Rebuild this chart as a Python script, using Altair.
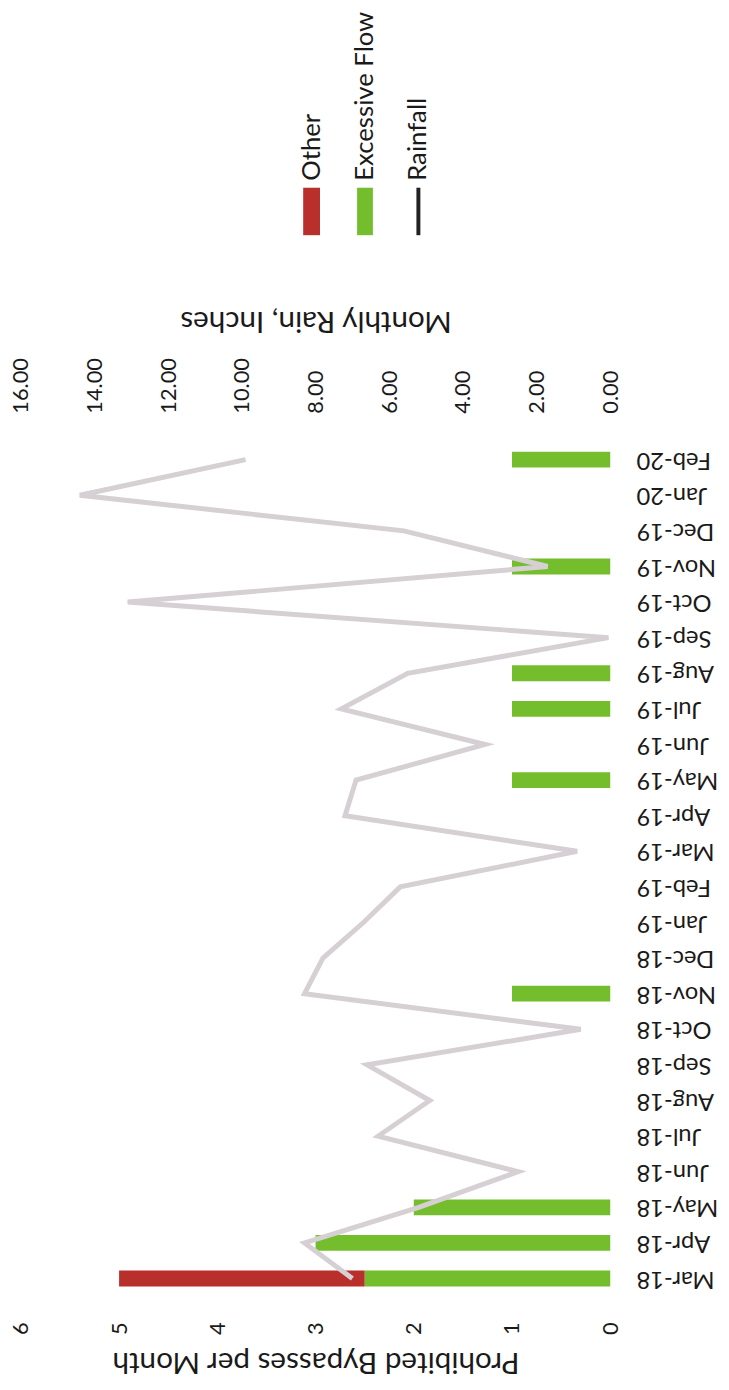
import altair as alt
import pandas as pd

# ---------------- data ----------------
months = ["Mar-18", "Apr-18", "May-18", "Jun-18", "Jul-18", "Aug-18", "Sep-18",
          "Oct-18", "Nov-18", "Dec-18", "Jan-19", "Feb-19", "Mar-19", "Apr-19",
          "May-19", "Jun-19", "Jul-19", "Aug-19", "Sep-19", "Oct-19", "Nov-19",
          "Dec-19", "Jan-20", "Feb-20"]
excessive_flow = [2.5, 3, 2, 0, 0, 0, 0, 0, 1, 0, 0, 0,
                  0, 0, 1, 0, 1, 1, 0, 0, 1, 0, 0, 1]
other = [2.5, 0, 0, 0, 0, 0, 0, 0, 0, 0, 0, 0,
         0, 0, 0, 0, 0, 0, 0, 0, 0, 0, 0, 0]
rainfall = [7.0, 8.3, 5.2, 2.5, 6.3, 4.9, 6.6, 0.8, 8.3, 7.8, 6.7, 5.7,
            0.9, 7.2, 6.9, 3.4, 7.3, 5.5, 0.05, 13.1, 1.7, 5.6, 14.4, 9.9]
bypass_ticks = [0, 1, 2, 3, 4, 5, 6]
rain_ticks = [0, 2, 4, 6, 8, 10, 12, 14, 16]
legend_names = ["Other", "Excessive Flow", "Rainfall"]

GREEN = "#74be2e"
RED = "#b92f2c"
RAIN = "#d6cfd3"
FONT = "Lato"
TXT = "#1a1a1a"

bars_df = pd.DataFrame({
    "month": months * 2,
    "series": ["Excessive Flow"] * len(months) + ["Other"] * len(months),
    "value": excessive_flow + other,
    "ord": [0] * len(months) + [1] * len(months),
})
rain_df = pd.DataFrame({"month": months, "rain": rainfall, "idx": list(range(len(months)))})
leg_df = pd.DataFrame({"name": legend_names})

y_scale = alt.Scale(paddingInner=0, paddingOuter=0)
y_axis = alt.Axis(orient="right", title=None, labelAngle=180, labelAlign="right",
                  labelBaseline="middle", labelPadding=26, ticks=False, domain=False,
                  grid=False, labelFont=FONT, labelFontSize=24, labelColor=TXT)

bars = alt.Chart(bars_df).mark_bar(size=16).encode(
    x=alt.X("value:Q", stack="zero",
            scale=alt.Scale(domain=[0, 6], reverse=True, nice=False),
            axis=alt.Axis(orient="bottom", values=bypass_ticks, format="d",
                          title="Prohibited Bypasses per Month",
                          labelAngle=270, labelAlign="right", labelBaseline="middle",
                          labelPadding=26, ticks=False, domain=False, grid=False,
                          labelFont=FONT, labelFontSize=22, labelColor=TXT,
                          titleAngle=180, titleBaseline="middle", titleY=66,
                          titleFont=FONT, titleFontSize=30, titleFontWeight="normal",
                          titleColor=TXT)),
    y=alt.Y("month:N", sort=months[::-1], scale=y_scale, axis=y_axis),
    color=alt.Color("series:N",
                    scale=alt.Scale(domain=["Excessive Flow", "Other"], range=[GREEN, RED]),
                    legend=None),
    order=alt.Order("ord:Q"),
)

line = alt.Chart(rain_df).mark_line(color=RAIN, strokeWidth=5).encode(
    x=alt.X("rain:Q",
            scale=alt.Scale(domain=[0, 16], reverse=True, nice=False),
            axis=alt.Axis(orient="top", values=rain_ticks, format=".2f",
                          title="Monthly Rain, Inches",
                          labelAngle=270, labelAlign="left", labelBaseline="middle",
                          labelPadding=29, ticks=False, domain=False, grid=False,
                          labelFont=FONT, labelFontSize=22, labelColor=TXT,
                          titleAngle=180, titleBaseline="middle", titleY=-123,
                          titleFont=FONT, titleFontSize=30, titleFontWeight="normal",
                          titleColor=TXT)),
    y=alt.Y("month:N", sort=months[::-1], scale=y_scale, axis=y_axis),
    order=alt.Order("idx:Q"),
)

leg_x = alt.X("name:N", scale=alt.Scale(type="point", domain=legend_names,
                                        range=[294, 402], padding=0), axis=None)

leg_text = alt.Chart(leg_df).mark_text(angle=270, align="left", baseline="middle",
                                       font=FONT, fontSize=26, color=TXT).encode(
    x=leg_x, y=alt.value(-264), text="name:N")

leg_other = alt.Chart(leg_df).transform_filter(alt.datum.name == "Other").mark_rule(
    strokeWidth=17, color=RED).encode(x=leg_x, y=alt.value(-257), y2=alt.value(-209))
leg_flow = alt.Chart(leg_df).transform_filter(alt.datum.name == "Excessive Flow").mark_rule(
    strokeWidth=16, color=GREEN).encode(x=leg_x, y=alt.value(-257), y2=alt.value(-209))
leg_rain = alt.Chart(leg_df).transform_filter(alt.datum.name == "Rainfall").mark_rule(
    strokeWidth=4, color="#222222").encode(x=leg_x, y=alt.value(-257), y2=alt.value(-209))

chart = alt.layer(bars, line, leg_text, leg_other, leg_flow, leg_rain).resolve_scale(
    x="independent"
).properties(
    width=596, height=864,
    padding={"left": 13, "top": 431, "right": 112, "bottom": 86},
    autosize=alt.AutoSizeParams(type="none"),
    background="white",
).configure_view(stroke=None)

chart.save("out.html", embed_options={"renderer": "svg", "actions": False})
